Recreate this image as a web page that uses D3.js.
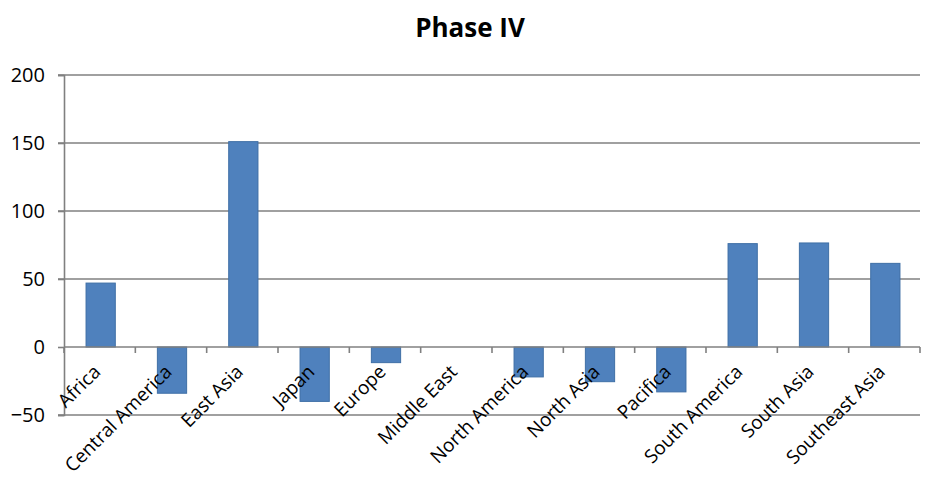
<!DOCTYPE html>
<html>
<head>
<meta charset="utf-8">
<script src="https://cdn.jsdelivr.net/npm/d3@7"></script>
<style>
  body { margin: 0; background: #fff; }
  text { font-family: "Open Sans", sans-serif; fill: #000; }
</style>
</head>
<body>
<div id="chart"></div>
<script>
// values
var regions = ["Africa", "Central America", "East Asia", "Japan", "Europe", "Middle East",
    "North America", "North Asia", "Pacifica", "South America", "South Asia", "Southeast Asia"];
var phaseIV = [47, -34, 151, -40, -11.5, 0, -22, -25.5, -33, 76, 76.5, 61.5];
var yTicks = [-50, 0, 50, 100, 150, 200];

var width = 935, height = 483;
var margin = { top: 75, right: 15, bottom: 68, left: 64 };

var svg = d3.select("#chart").append("svg")
    .attr("width", width)
    .attr("height", height);

var x = d3.scaleBand()
    .domain(regions)
    .range([margin.left, width - margin.right]);

var y = d3.scaleLinear()
    .domain([-50, 200])
    .range([height - margin.bottom, margin.top]);

// title
svg.append("text")
    .attr("x", 470)
    .attr("y", 37)
    .attr("text-anchor", "middle")
    .style("font-size", "26px")
    .style("font-weight", "bold")
    .text("Phase IV");

// horizontal gridlines
svg.append("g")
    .selectAll("line")
    .data(yTicks.filter(function (d) { return d != 0; }))
    .enter().append("line")
    .attr("x1", margin.left - 6)
    .attr("x2", width - margin.right)
    .attr("y1", function (d) { return y(d); })
    .attr("y2", function (d) { return y(d); })
    .attr("stroke", "#808080")
    .attr("stroke-width", 1.6);

// y axis
var yAxis = svg.append("g")
    .attr("transform", "translate(" + margin.left + ",0)")
    .call(d3.axisLeft(y).tickValues(yTicks).tickSize(6).tickPadding(13));
yAxis.select(".domain").attr("stroke", "#808080").attr("stroke-width", 1.6);
yAxis.selectAll(".tick line").attr("stroke", "#808080").attr("stroke-width", 1.6);
yAxis.selectAll(".tick text").style("font-size", "20px").attr("font-family", null).attr("fill", "#000");

// bars
var barW = x.bandwidth() * 0.41;
svg.append("g")
    .selectAll("rect")
    .data(phaseIV)
    .enter().append("rect")
    .attr("x", function (d, i) { return x(regions[i]) + x.bandwidth() / 2 - barW / 2 + 1; })
    .attr("y", function (d) { return y(Math.max(0, d)); })
    .attr("width", barW)
    .attr("height", function (d) { return Math.abs(y(d) - y(0)); })
    .attr("fill", "#4f81bd")
    .attr("stroke", "#3f6fa6")
    .attr("stroke-width", 1);

// zero axis with ticks at category boundaries
var zero = svg.append("g")
    .attr("transform", "translate(0," + y(0) + ")");
zero.append("line")
    .attr("x1", margin.left)
    .attr("x2", width - margin.right)
    .attr("stroke", "#808080")
    .attr("stroke-width", 1.6);
zero.selectAll(".tk")
    .data(regions.concat(["end"]))
    .enter().append("line")
    .attr("class", "tk")
    .attr("x1", function (d, i) { return margin.left + i * x.bandwidth(); })
    .attr("x2", function (d, i) { return margin.left + i * x.bandwidth(); })
    .attr("y1", 0)
    .attr("y2", 6)
    .attr("stroke", "#808080")
    .attr("stroke-width", 1.6);

// rotated category labels
zero.selectAll(".lbl")
    .data(regions)
    .enter().append("text")
    .attr("class", "lbl")
    .attr("text-anchor", "end")
    .attr("transform", function (d) {
        return "translate(" + (x(d) + x.bandwidth() / 2 + 2) + ",26) rotate(-45)";
    })
    .style("font-size", "19px")
    .text(function (d) { return d; });
</script>
</body>
</html>
